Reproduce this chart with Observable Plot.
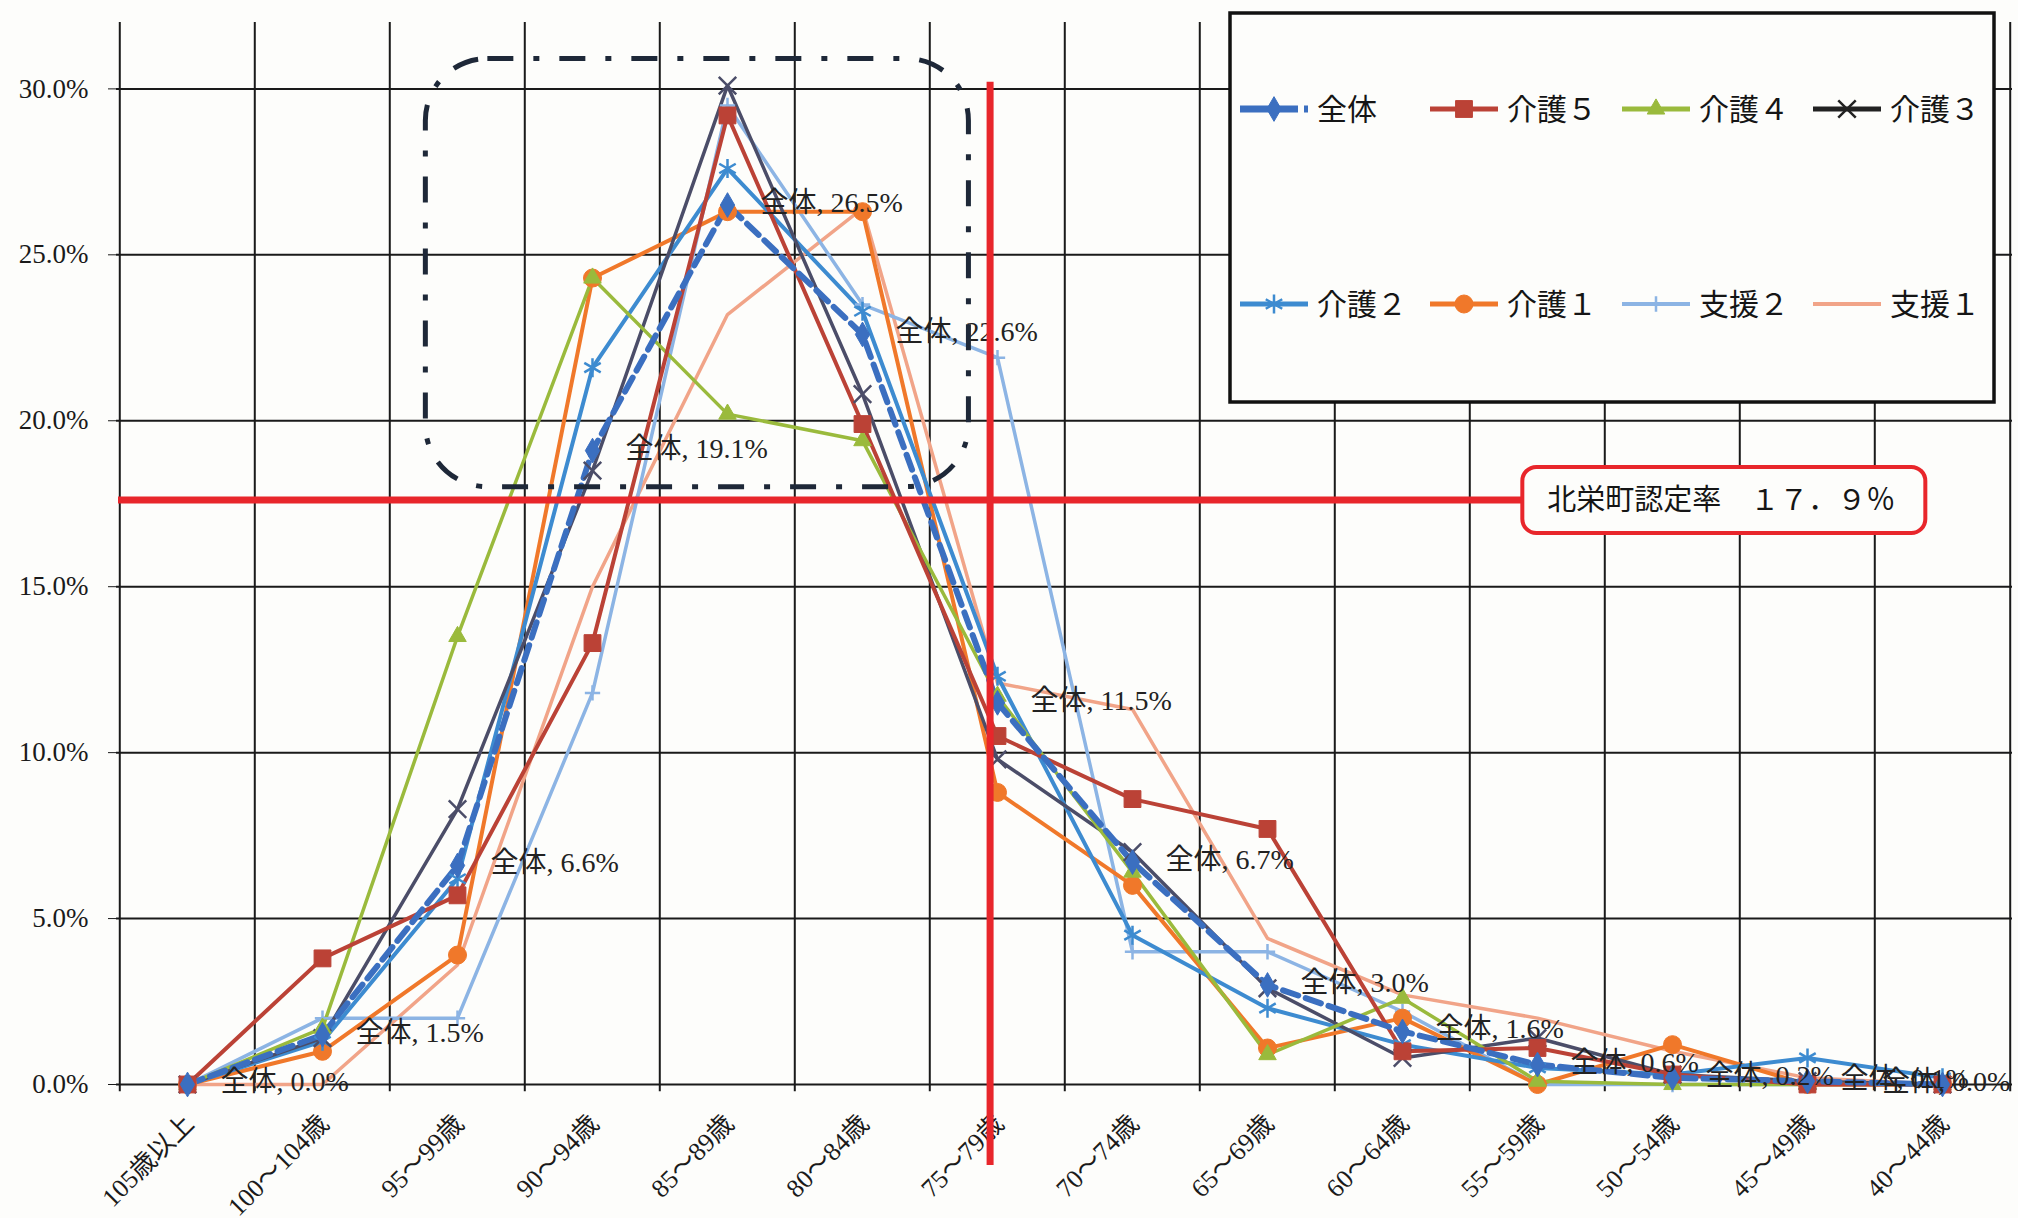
<!DOCTYPE html>
<html><head><meta charset="utf-8">
<script src="https://cdn.jsdelivr.net/npm/d3@7"></script>
<script src="https://cdn.jsdelivr.net/npm/@observablehq/plot@0.6"></script>
<style>
html,body{margin:0;padding:0;background:#fdfdfb;overflow:hidden;}
</style></head><body>
<div id="chart"></div>
<script>
// ---------- data ----------
const categories = ["105歳以上","100～104歳","95～99歳","90～94歳","85～89歳","80～84歳","75～79歳","70～74歳","65～69歳","60～64歳","55～59歳","50～54歳","45～49歳","40～44歳"];
const seriesNames = ["全体","介護５","介護４","介護３","介護２","介護１","支援２","支援１"];
const zentai = [0.0, 1.5, 6.6, 19.1, 26.5, 22.6, 11.5, 6.7, 3.0, 1.6, 0.6, 0.2, 0.1, 0.0];
const kaigo5 = [0.0, 3.8, 5.7, 13.3, 29.2, 19.9, 10.5, 8.6, 7.7, 1.0, 1.1, 0.3, 0.0, 0.0];
const kaigo4 = [0.0, 1.7, 13.5, 24.3, 20.2, 19.4, 11.7, 6.4, 0.9, 2.6, 0.1, 0.0, 0.0, 0.0];
const kaigo3 = [0.0, 1.4, 8.3, 18.5, 30.1, 20.8, 9.8, 7.0, 2.9, 0.8, 1.4, 0.3, 0.1, 0.0];
const kaigo2 = [0.0, 1.3, 6.2, 21.6, 27.6, 23.3, 12.3, 4.5, 2.3, 1.2, 0.5, 0.3, 0.8, 0.2];
const kaigo1 = [0.0, 1.0, 3.9, 24.3, 26.3, 26.3, 8.8, 6.0, 1.1, 2.0, 0.0, 1.2, 0.0, 0.0];
const shien2 = [0.0, 2.0, 2.0, 11.8, 29.5, 23.5, 21.9, 4.0, 4.0, 2.2, 0.0, 0.0, 0.0, 0.0];
const shien1 = [0.0, 0.0, 3.6, 15.0, 23.2, 26.4, 12.1, 11.3, 4.4, 2.7, 2.0, 1.0, 0.2, 0.0];
const yTicks = [0, 5, 10, 15, 20, 25, 30];
const rateLabel = "北栄町認定率　１７．９％";
const rateLineValue = 17.6;           // where the hand-drawn line sits
const focusBox = {i0: 1.76, i1: 5.77, v0: 18.0, v1: 30.9}; // dash-dot box (category index / %)
const markerIndex = 5.93, markerTop = 30.2;                  // red vertical line

// ---------- styles ----------
const FONT = '"Liberation Serif","Noto Sans CJK JP",serif';
const JFONT = '"Noto Sans CJK JP",sans-serif';
const W = 2018, H = 1218;
const M = {top: 22, right: 6, bottom: 134, left: 116};
const step = (W - M.left - M.right) / categories.length;

const series = [
  {name:"全体",  values: zentai, color:"#3b6fc0", width:6,   dash:"16,8", symbol:"diamond", r:7.5, filled:true},
  {name:"介護５", values: kaigo5, color:"#bb4236", width:4,   symbol:"square",   r:9.5, filled:true},
  {name:"介護４", values: kaigo4, color:"#9aba3c", width:3.5, symbol:"triangle", r:6.5, filled:true},
  {name:"介護３", values: kaigo3, color:"#4b4d68", width:3.5, symbol:"times",    r:8,   filled:false, legendColor:"#222"},
  {name:"介護２", values: kaigo2, color:"#3d8bd0", width:4,   symbol:"asterisk", r:9,   filled:false},
  {name:"介護１", values: kaigo1, color:"#f0782a", width:4,   symbol:"circle",   r:9,   filled:true},
  {name:"支援２", values: shien2, color:"#8cb4e4", width:3.5, symbol:"plus",     r:5,   filled:false},
  {name:"支援１", values: shien1, color:"#f1a488", width:3.5, symbol:null,       r:0,   filled:false}
];
const rows = s => s.values.map((v, i) => ({cat: categories[i], v, i}));

const drawOrder = [7,6,5,4,3,2,1,0];
const marks = [];
// grid
marks.push(Plot.ruleY(yTicks, {y: d => d, stroke: "#1a1a1a", strokeWidth: 2}));
marks.push(Plot.ruleX(categories, {x: d => d, dx: -step/2, y1: -0.22, y2: 32, stroke: "#1a1a1a", strokeWidth: 2}));
marks.push(Plot.ruleX([categories[categories.length-1]], {x: d => d, dx: step/2, y1: -0.22, y2: 32, stroke: "#1a1a1a", strokeWidth: 2}));
// lines
for (const k of drawOrder) {
  const s = series[k];
  marks.push(Plot.line(rows(s), {x: "cat", y: "v", stroke: s.color, strokeWidth: s.width,
    strokeDasharray: s.dash, curve: "linear", strokeLinejoin: "round"}));
}
// markers
for (const k of drawOrder) {
  const s = series[k];
  if (!s.symbol) continue;
  marks.push(Plot.dot(rows(s), s.filled
    ? {x: "cat", y: "v", symbol: s.symbol, r: s.r, fill: s.color, stroke: s.color, strokeWidth: 1}
    : {x: "cat", y: "v", symbol: s.symbol, r: s.r, stroke: s.color, fill: "none", strokeWidth: 2.5}));
}
// data labels for 全体
const lab = rows(series[0]);
marks.push(Plot.text(lab.slice(0, -1), {x: "cat", y: "v", text: d => `全体, ${d.v.toFixed(1)}%`,
  dx: 33, dy: -2, textAnchor: "start", lineAnchor: "middle", fontSize: 28, fill: "#222", fontFamily: FONT}));
marks.push(Plot.text(lab.slice(-1), {x: "cat", y: "v", text: d => `全体, ${d.v.toFixed(1)}%`,
  dx: step/2, dy: -2, textAnchor: "end", lineAnchor: "middle", fontSize: 28, fill: "#222", fontFamily: FONT}));
// x tick labels
marks.push(Plot.text(categories, {x: d => d, y: 0, text: d => d, rotate: -45, textAnchor: "end",
  lineAnchor: "middle", dy: 35, dx: 2, fontSize: 26, fill: "#1a1a1a", fontFamily: FONT}));

const chart = Plot.plot({
  width: W, height: H,
  marginTop: M.top, marginRight: M.right, marginBottom: M.bottom, marginLeft: M.left,
  x: {type: "point", domain: categories, padding: 0.5, axis: null},
  y: {domain: [0, 32], ticks: yTicks, tickSize: 8, tickPadding: 20,
      tickFormat: d => d.toFixed(1) + "%", label: null},
  style: {background: "#fdfdfb", fontFamily: FONT, fontSize: "27px", color: "#1a1a1a", overflow: "visible"},
  marks
});
document.getElementById("chart").appendChild(chart);

// ---------- annotations on top ----------
const xs = chart.scale("x"), ys = chart.scale("y");
const x0 = xs.apply(categories[0]);
const ix = i => x0 + i * step;
const svg = d3.select(chart);
const g = svg.append("g").attr("text-anchor", "start");

// dash-dot rounded box
g.append("rect")
  .attr("x", ix(focusBox.i0)).attr("y", ys.apply(focusBox.v1))
  .attr("width", ix(focusBox.i1) - ix(focusBox.i0))
  .attr("height", ys.apply(focusBox.v0) - ys.apply(focusBox.v1))
  .attr("rx", 62).attr("ry", 62)
  .attr("fill", "none").attr("stroke", "#1e2838").attr("stroke-width", 5)
  .attr("stroke-dasharray", "26,20,6,20");

// red lines
const red = "#e8262b";
const annLeft = ix(9.86), annW = 403, annH = 66;
g.append("line").attr("x1", M.left + 2).attr("x2", annLeft)
  .attr("y1", ys.apply(rateLineValue)).attr("y2", ys.apply(rateLineValue))
  .attr("stroke", red).attr("stroke-width", 7);
g.append("line").attr("x1", ix(markerIndex)).attr("x2", ix(markerIndex))
  .attr("y1", ys.apply(markerTop)).attr("y2", ys.apply(0) + 81)
  .attr("stroke", red).attr("stroke-width", 7);
// rate box
g.append("rect").attr("x", annLeft).attr("y", ys.apply(rateLineValue) - annH/2)
  .attr("width", annW).attr("height", annH).attr("rx", 14)
  .attr("fill", "#fdfdfb").attr("stroke", red).attr("stroke-width", 4);
g.append("text").attr("x", annLeft + 25).attr("y", ys.apply(rateLineValue))
  .attr("dy", "0.36em").attr("text-anchor", "start")
  .attr("font-family", JFONT).attr("font-size", 29).attr("fill", "#151515")
  .text(rateLabel);

// legend
const lg = svg.append("g").attr("text-anchor", "start");
lg.append("rect").attr("x", 1230).attr("y", 13).attr("width", 764).attr("height", 389)
  .attr("fill", "#fdfdfb").attr("stroke", "#111").attr("stroke-width", 3.5);
const cols = [1240, 1430, 1622, 1813], rowsY = [109, 304];
const symMap = {diamond: d3.symbolDiamond, square: d3.symbolSquare, triangle: d3.symbolTriangle,
  times: d3.symbolTimes, asterisk: d3.symbolAsterisk, circle: d3.symbolCircle, plus: d3.symbolPlus};
series.forEach((s, k) => {
  const x = cols[k % 4], y = rowsY[Math.floor(k / 4)];
  const c = s.legendColor || s.color;
  lg.append("line").attr("x1", x).attr("x2", x + 68).attr("y1", y).attr("y2", y)
    .attr("stroke", c).attr("stroke-width", s.name === "全体" ? 7 : (s.symbol === "plus" || !s.symbol ? 4 : 5))
    .attr("stroke-dasharray", s.name === "全体" ? "58,6,4,10" : null);
  if (s.symbol) {
    const path = d3.symbol(symMap[s.symbol], Math.PI * s.r * s.r)();
    const p = lg.append("path").attr("d", path).attr("transform", `translate(${x + 34},${y})`);
    if (s.filled) p.attr("fill", c).attr("stroke", c);
    else p.attr("fill", "none").attr("stroke", c).attr("stroke-width", 2.5);
  }
  lg.append("text").attr("x", x + 77).attr("y", y).attr("dy", "0.36em").attr("text-anchor", "start")
    .attr("font-family", JFONT).attr("font-size", 30).attr("fill", "#151515").text(s.name);
});
</script>
</body></html>
